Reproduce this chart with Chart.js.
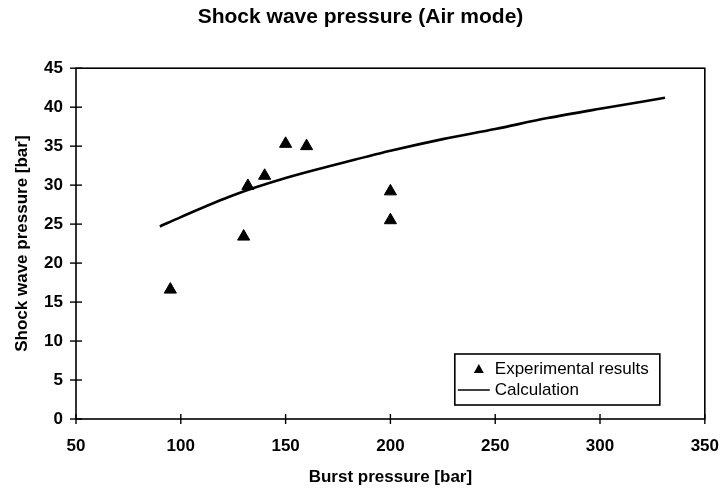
<!DOCTYPE html>
<html lang="en">
<head>
<meta charset="UTF-8" />
<title>Shock wave pressure (Air mode)</title>
<script src="https://cdn.jsdelivr.net/npm/chart.js@4.4.0/dist/chart.umd.min.js"></script>
<style>
  html, body { margin: 0; padding: 0; background: #fff; }
  #wrap { width: 721px; height: 491px; }
</style>
</head>
<body>
<div id="wrap"><canvas id="grafico"></canvas></div>
<script>
  // measured points
  const burstExp = [95, 130, 132, 140, 150, 160, 200, 200];
  const shockExp = [16.6, 23.4, 29.9, 31.2, 35.3, 35.0, 29.2, 25.5];
  // calculated curve
  const burstCalc = [90, 100, 125, 150, 175, 200, 225, 250, 275, 300, 331];
  const shockCalc = [24.7, 25.9, 28.7, 30.9, 32.7, 34.4, 35.9, 37.2, 38.6, 39.8, 41.2];
  // axes
  const xTicks = [50, 100, 150, 200, 250, 300, 350];
  const yTicks = [0, 5, 10, 15, 20, 25, 30, 35, 40, 45];

  const fonte = "'Liberation Sans', Arial, sans-serif";

  // frame + ticks crossing the axes
  const moldura = {
    id: "moldura",
    afterDraw(chart) {
      const { ctx, chartArea: a, scales } = chart;
      ctx.save();
      ctx.strokeStyle = "#000";
      ctx.lineWidth = 1.6;
      ctx.strokeRect(a.left, a.top, a.right - a.left, a.bottom - a.top);
      ctx.lineWidth = 1.4;
      scales.y.ticks.forEach((t) => {
        const y = scales.y.getPixelForValue(t.value);
        ctx.beginPath();
        ctx.moveTo(a.left - 6, y);
        ctx.lineTo(a.left + 6, y);
        ctx.stroke();
      });
      scales.x.ticks.forEach((t) => {
        const x = scales.x.getPixelForValue(t.value);
        ctx.beginPath();
        ctx.moveTo(x, a.bottom - 5);
        ctx.lineTo(x, a.bottom + 5);
        ctx.stroke();
      });
      ctx.restore();
    },
  };

  // legend box inside the plot, bottom right
  const legenda = {
    id: "legenda",
    afterDraw(chart) {
      const { ctx, chartArea: a } = chart;
      const w = 205, h = 51;
      const x0 = a.right - 250, y0 = a.bottom - 65;
      ctx.save();
      ctx.fillStyle = "#fff";
      ctx.fillRect(x0, y0, w, h);
      ctx.strokeStyle = "#000";
      ctx.lineWidth = 1.6;
      ctx.strokeRect(x0, y0, w, h);
      ctx.font = "17px " + fonte;
      ctx.fillStyle = "#000";
      ctx.textBaseline = "middle";
      chart.data.datasets.forEach((ds, i) => {
        const y = y0 + 15 + i * 21;
        if (ds.showLine === false) {
          ctx.beginPath();
          ctx.moveTo(x0 + 24, y - 5);
          ctx.lineTo(x0 + 29, y + 4);
          ctx.lineTo(x0 + 19, y + 4);
          ctx.closePath();
          ctx.fill();
        } else {
          ctx.lineWidth = 1.5;
          ctx.beginPath();
          ctx.moveTo(x0 + 3, y);
          ctx.lineTo(x0 + 35, y);
          ctx.stroke();
        }
        ctx.fillText(ds.label, x0 + 40, y);
      });
      ctx.restore();
    },
  };

  new Chart("grafico", {
    type: "scatter",
    data: {
      datasets: [
        {
          label: "Experimental results",
          data: burstExp.map((v, i) => ({ x: v, y: shockExp[i] })),
          showLine: false,
          pointStyle: "triangle",
          pointRadius: 7,
          backgroundColor: "#000",
          borderColor: "#000",
          borderWidth: 1,
        },
        {
          label: "Calculation",
          data: burstCalc.map((v, i) => ({ x: v, y: shockCalc[i] })),
          showLine: true,
          pointRadius: 0,
          borderColor: "#000",
          borderWidth: 2.6,
          cubicInterpolationMode: "monotone",
        },
      ],
    },
    options: {
      responsive: true,
      maintainAspectRatio: false,
      animation: false,
      devicePixelRatio: 1,
      layout: { padding: { left: 0, right: 0, top: 0, bottom: 0 } },
      plugins: {
        legend: { display: false },
        tooltip: { enabled: false },
        title: {
          display: true,
          text: "Shock wave pressure (Air mode)",
          color: "#000",
          font: { family: fonte, size: 21, weight: "bold" },
          padding: { top: 5, bottom: 38 },
        },
      },
      scales: {
        x: {
          type: "linear",
          min: 50,
          max: 350,
          afterBuildTicks: (s) => { s.ticks = xTicks.map((v) => ({ value: v })); },
          afterFit: (s) => { s.height = 72; },
          grid: { display: false, drawTicks: true, tickLength: 15 },
          border: { display: false },
          ticks: { color: "#000", padding: 2, font: { family: fonte, size: 17, weight: "bold" } },
          title: {
            display: true,
            text: "Burst pressure [bar]",
            color: "#000",
            font: { family: fonte, size: 17, weight: "bold" },
            padding: { top: 4, bottom: 3 },
          },
        },
        y: {
          min: 0,
          max: 45,
          afterBuildTicks: (s) => { s.ticks = yTicks.map((v) => ({ value: v })); },
          afterFit: (s) => { s.width = 76; },
          grid: { display: false, drawTicks: false },
          border: { display: false },
          ticks: { color: "#000", padding: 13, font: { family: fonte, size: 17, weight: "bold" } },
          title: {
            display: true,
            text: "Shock wave pressure [bar]",
            color: "#000",
            font: { family: fonte, size: 17, weight: "bold" },
            padding: { top: 12, bottom: 4 },
          },
        },
      },
    },
    plugins: [moldura, legenda],
  });
</script>
</body>
</html>
